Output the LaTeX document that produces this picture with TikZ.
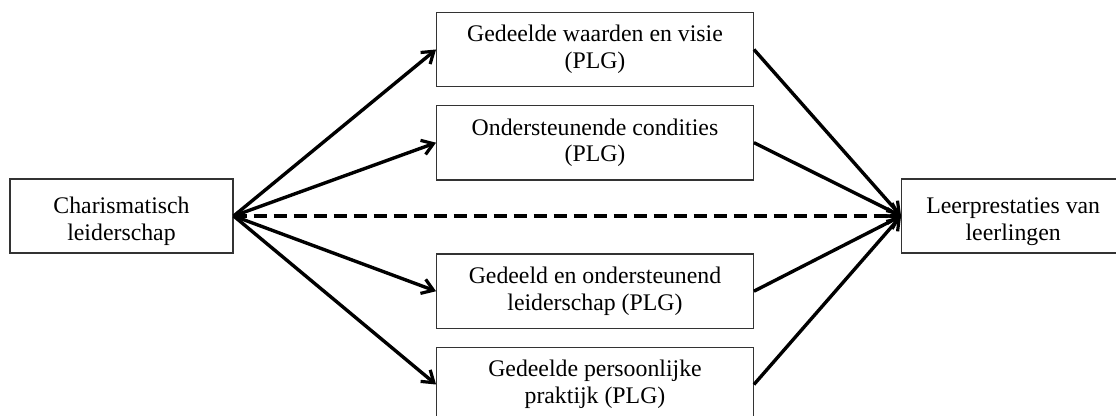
\documentclass[tikz,border=0pt]{standalone}
\usepackage{fontspec}
\setmainfont{Liberation Serif}
\usetikzlibrary{arrows.meta}
\begin{document}
\begin{tikzpicture}[x=0.5pt,y=-0.5pt,
  box/.style={draw=black!80, line width=0.65pt, fill=white, align=center,
    font=\fontsize{11.9pt}{13.4pt}\selectfont, inner sep=0pt},
  sidebox/.style={box, minimum width=111.5pt, minimum height=37pt},
  midbox/.style={box, minimum width=158.3pt, minimum height=37.25pt},
  arr/.style={line width=1.7pt, -{Straight Barb[length=5.5pt,width=7.5pt,line width=1.6pt]}},
  dashedarr/.style={arr, dash pattern=on 6.5pt off 3.5pt}]
\useasboundingbox (0,0) rectangle (1116,416);
\clip (0,0) rectangle (1116,416);
\node[sidebox] (cl) at (121.5,216) {\rule{0pt}{13.3pt}Charismatisch\\leiderschap};
\node[sidebox] (lp) at (1013.2,216) {\rule{0pt}{13.3pt}Leerprestaties van\\leerlingen};
\node[midbox] (m1) at (595,49.5) {Gedeelde waarden en visie\\(PLG)};
\node[midbox] (m2) at (595,142.7) {Ondersteunende condities\\(PLG)};
\node[midbox] (m3) at (595,291.2) {Gedeeld en ondersteunend\\leiderschap (PLG)};
\node[midbox] (m4) at (595,384.5) {Gedeelde persoonlijke\\praktijk (PLG)};
\foreach \m in {m1,m2,m3,m4}{
  \draw[arr] (cl.east) -- (\m.west);
  \draw[arr] (\m.east) -- (lp.west);
}
\draw[dashedarr] (cl.east) -- (lp.west);
\end{tikzpicture}
\end{document}
